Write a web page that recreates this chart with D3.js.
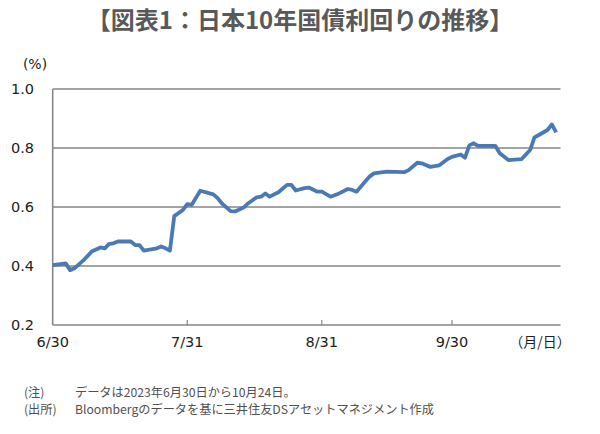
<!DOCTYPE html>
<html>
<head>
<meta charset="utf-8">
<script src="https://cdn.jsdelivr.net/npm/d3@7"></script>
<style>
  body { margin: 0; background: #ffffff; }
  #chart { position: relative; width: 600px; height: 434px; }
  svg { display: block; }
  #notes {
    position: absolute; left: 24px; top: 383.5px;
    font-family: 'Noto Sans CJK JP', sans-serif;
    font-size: 12.2px; line-height: 17.8px; color: #505050;
  }
  #notes .row { display: flex; height: 17.8px; white-space: nowrap; }
  #notes .lab { width: 51px; }
</style>
</head>
<body>
<div id="chart"></div>
<script>
// 日本10年国債利回り (%), 2023/6/30 - 10/24
const dates = [
  "2023-06-30","2023-07-03","2023-07-04","2023-07-05","2023-07-07","2023-07-09",
  "2023-07-11","2023-07-12","2023-07-13","2023-07-14","2023-07-15","2023-07-18",
  "2023-07-19","2023-07-20","2023-07-21","2023-07-24","2023-07-25","2023-07-26",
  "2023-07-27","2023-07-28","2023-07-30","2023-07-31","2023-08-01","2023-08-03",
  "2023-08-06","2023-08-07","2023-08-08","2023-08-10","2023-08-11","2023-08-13",
  "2023-08-14","2023-08-16","2023-08-17","2023-08-18","2023-08-19","2023-08-21",
  "2023-08-23","2023-08-24","2023-08-25","2023-08-27","2023-08-28","2023-08-30",
  "2023-08-31","2023-09-02","2023-09-04","2023-09-06","2023-09-07","2023-09-08",
  "2023-09-11","2023-09-12","2023-09-15","2023-09-19","2023-09-20","2023-09-22",
  "2023-09-23","2023-09-25","2023-09-27","2023-09-29","2023-09-30","2023-10-02",
  "2023-10-03","2023-10-04","2023-10-05","2023-10-06","2023-10-10","2023-10-11",
  "2023-10-13","2023-10-16","2023-10-18","2023-10-19","2023-10-20","2023-10-22",
  "2023-10-23","2023-10-24"
];
const yields = [
  0.403, 0.409, 0.386, 0.392, 0.418, 0.449,
  0.463, 0.460, 0.475, 0.477, 0.483, 0.483,
  0.471, 0.471, 0.452, 0.460, 0.466, 0.460,
  0.452, 0.569, 0.590, 0.610, 0.607, 0.655,
  0.643, 0.630, 0.612, 0.586, 0.585, 0.598,
  0.612, 0.633, 0.635, 0.646, 0.635, 0.650,
  0.675, 0.675, 0.656, 0.664, 0.666, 0.652,
  0.652, 0.635, 0.646, 0.661, 0.658, 0.652,
  0.703, 0.714, 0.720, 0.718, 0.725, 0.750,
  0.748, 0.736, 0.741, 0.763, 0.770, 0.778,
  0.767, 0.809, 0.816, 0.807, 0.807, 0.782,
  0.759, 0.762, 0.793, 0.836, 0.844, 0.861,
  0.880, 0.853
];
const xTickDates = ["2023-06-30", "2023-07-31", "2023-08-31", "2023-09-30"];
const xTickLabels = ["6/30", "7/31", "8/31", "9/30"];
const yTicks = [0.2, 0.4, 0.6, 0.8, 1.0];

const title = "【図表1：日本10年国債利回りの推移】";
const noteLabels = ["(注)", "(出所)"];
const noteTexts = [
  "データは2023年6月30日から10月24日。",
  "Bloombergのデータを基に三井住友DSアセットマネジメント作成"
];

const W = 600, H = 434;
const parse = d3.timeParse("%Y-%m-%d");
const data = dates.map((d, i) => ({ date: parse(d), value: yields[i] }));

const svg = d3.select("#chart").append("svg")
  .attr("width", W).attr("height", H)
  .style("font-family", "'DejaVu Sans', Verdana, sans-serif");

svg.append("rect").attr("width", W).attr("height", H).attr("fill", "#fff");

// title
svg.append("text")
  .attr("x", 300).attr("y", 29)
  .attr("text-anchor", "middle")
  .style("font-family", "'Noto Sans CJK JP', sans-serif")
  .style("font-weight", "bold")
  .style("font-size", "24px")
  .attr("fill", "#595959")
  .text(title);

// scales
const x = d3.scaleTime()
  .domain([parse("2023-06-30"), parse("2023-10-25")])
  .range([52.7, 560.5]);
const y = d3.scaleLinear()
  .domain([0.2, 1.0])
  .range([325, 89]);

const gridColor = "#868686";

// horizontal gridlines
svg.append("g")
  .selectAll("line")
  .data(yTicks)
  .join("line")
  .attr("x1", x.range()[0]).attr("x2", x.range()[1])
  .attr("y1", d => y(d)).attr("y2", d => y(d))
  .attr("stroke", gridColor)
  .attr("stroke-width", 1.6);

// left axis line
svg.append("line")
  .attr("x1", x.range()[0]).attr("x2", x.range()[0])
  .attr("y1", y(0.2)).attr("y2", y(1.0))
  .attr("stroke", gridColor)
  .attr("stroke-width", 1.6);

// x ticks (pointing up into the plot)
svg.append("g")
  .selectAll("line")
  .data(xTickDates.slice(1))
  .join("line")
  .attr("x1", d => x(parse(d))).attr("x2", d => x(parse(d)))
  .attr("y1", y(0.2)).attr("y2", y(0.2) - 5)
  .attr("stroke", gridColor)
  .attr("stroke-width", 1.2);

// y labels
svg.append("g")
  .selectAll("text")
  .data(yTicks)
  .join("text")
  .attr("x", 34)
  .attr("y", d => y(d))
  .attr("dy", "0.36em")
  .attr("text-anchor", "end")
  .style("font-size", "14.5px")
  .attr("fill", "#222")
  .text(d => d.toFixed(1));

svg.append("text")
  .attr("x", 35).attr("y", 69)
  .attr("text-anchor", "middle")
  .style("font-size", "14px")
  .attr("fill", "#222")
  .text("(%)");

// x labels
svg.append("g")
  .selectAll("text")
  .data(xTickDates)
  .join("text")
  .attr("x", d => x(parse(d)))
  .attr("y", 347)
  .attr("text-anchor", "middle")
  .style("font-size", "14.5px")
  .attr("fill", "#222")
  .text((d, i) => xTickLabels[i]);

svg.append("text")
  .attr("x", 540).attr("y", 347)
  .attr("text-anchor", "middle")
  .style("font-family", "'Noto Sans CJK JP', sans-serif")
  .style("font-size", "14px")
  .attr("fill", "#222")
  .text("（月/日）");

// line
const line = d3.line()
  .x(d => x(d.date))
  .y(d => y(d.value));

svg.append("path")
  .datum(data)
  .attr("fill", "none")
  .attr("stroke", "#4a7ab6")
  .attr("stroke-width", 3.8)
  .attr("stroke-linejoin", "round")
  .attr("d", line);

// notes
const notesDiv = d3.select("#chart").append("div").attr("id", "notes");
noteLabels.forEach((lab, i) => {
  const row = notesDiv.append("div").attr("class", "row");
  row.append("span").attr("class", "lab").text(lab);
  row.append("span").text(noteTexts[i]);
});
</script>
</body>
</html>
